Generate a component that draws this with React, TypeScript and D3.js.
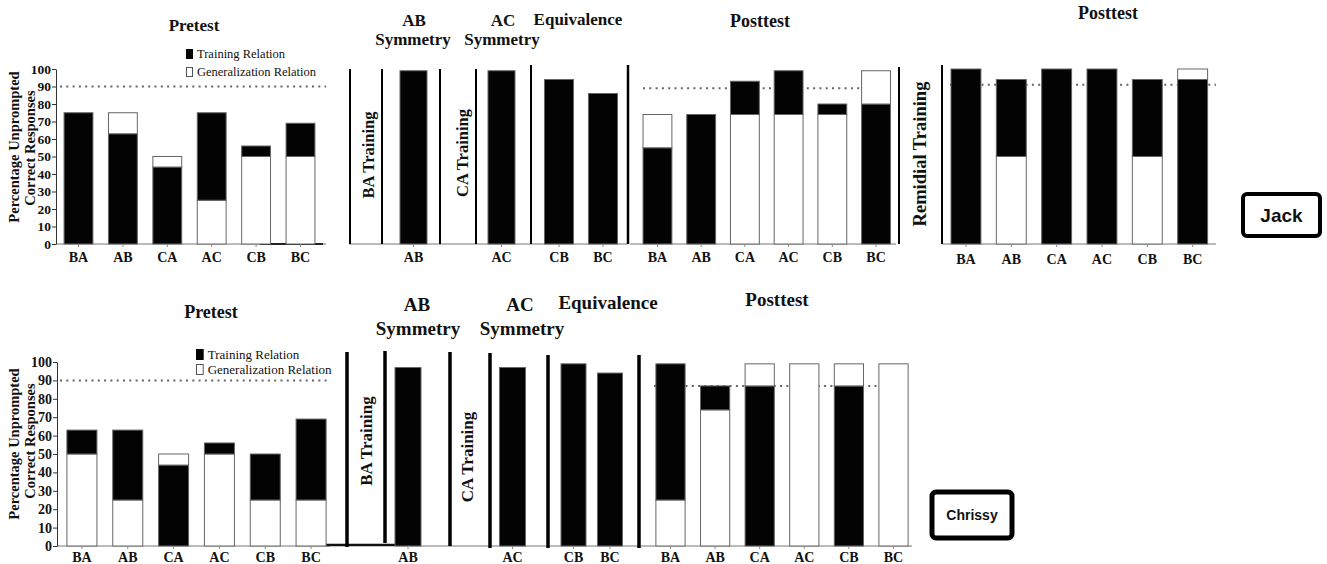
import { useEffect, useRef } from "react";
import * as d3 from "d3";

const relations = ["BA", "AB", "CA", "AC", "CB", "BC"];
const yTicks = [0, 10, 20, 30, 40, 50, 60, 70, 80, 90, 100];
const legendLabels = ["Training Relation", "Generalization Relation"];

// Jack
const jackPretestBase = [75, 63, 44, 25, 50, 50];
const jackPretestTotal = [75, 75, 50, 75, 56, 69];
const jackPretestBaseTraining = [true, true, true, false, false, false];
const jackAbSymmetry = [99];
const jackAcSymmetry = [99];
const equivalenceCats = ["CB", "BC"];
const jackEquivalence = [94, 86];
const jackPosttestBase = [55, 74, 74, 74, 74, 80];
const jackPosttestTotal = [74, 74, 93, 99, 80, 99];
const jackPosttestBaseTraining = [true, true, false, false, false, true];
const jackRemedialBase = [100, 50, 100, 100, 50, 94];
const jackRemedialTotal = [100, 94, 100, 100, 94, 100];
const jackRemedialBaseTraining = [true, false, true, true, false, true];

// Chrissy
const chrissyPretestBase = [50, 25, 44, 50, 25, 25];
const chrissyPretestTotal = [63, 63, 50, 56, 50, 69];
const chrissyPretestBaseTraining = [false, false, true, false, false, false];
const chrissyAbSymmetry = [97];
const chrissyAcSymmetry = [97];
const chrissyEquivalence = [99, 94];
const chrissyPosttestBase = [25, 74, 87, 99, 87, 99];
const chrissyPosttestTotal = [99, 87, 99, 99, 99, 99];
const chrissyPosttestBaseTraining = [false, false, true, false, true, false];

const criterion = 90;
const chrissyPosttestCriterion = 87;

const SERIF = "'Liberation Serif', 'Times New Roman', serif";
const SANS = "'Liberation Sans', Arial, sans-serif";

const App = () => {
    const ref = useRef<SVGSVGElement>(null);

    useEffect(() => {
        const svg = d3.select(ref.current);
        svg.selectAll("*").remove();

        const jackY = d3.scaleLinear().domain([0, 100]).range([244, 69]);
        const chrissyY = d3.scaleLinear().domain([0, 100]).range([546, 362]);

        const drawPanel = (y, cats, base, total, baseTraining, range, pad, labelPad = 5) => {
            const x = d3.scaleBand().domain(cats).range(range).paddingInner(pad).paddingOuter(pad / 2);
            const g = svg.append("g");
            cats.forEach((c, i) => {
                const b = base[i], t = total[i];
                g.append("rect")
                    .attr("x", x(c)).attr("width", x.bandwidth())
                    .attr("y", y(b)).attr("height", y(0) - y(b))
                    .attr("fill", baseTraining[i] ? "#030303" : "#fff")
                    .attr("stroke", "#666").attr("stroke-width", 1);
                if (t > b) {
                    g.append("rect")
                        .attr("x", x(c)).attr("width", x.bandwidth())
                        .attr("y", y(t)).attr("height", y(b) - y(t))
                        .attr("fill", baseTraining[i] ? "#fff" : "#030303")
                        .attr("stroke", "#666").attr("stroke-width", 1);
                }
            });
            const ax = g.append("g")
                .attr("transform", "translate(0," + y(0) + ")")
                .call(d3.axisBottom(x).tickSize(3).tickSizeOuter(0).tickPadding(labelPad));
            ax.select(".domain").remove();
            ax.selectAll("line").attr("stroke", "#888");
            ax.selectAll("text")
                .attr("font-family", SERIF).attr("font-weight", "bold")
                .attr("font-size", 14).attr("fill", "#111");
        };

        const drawYAxis = (y, xPos, size) => {
            const ax = svg.append("g")
                .attr("transform", "translate(" + xPos + ",0)")
                .call(d3.axisLeft(y).tickValues(yTicks).tickSize(4).tickSizeOuter(0).tickPadding(1));
            ax.select(".domain").attr("stroke", "#333");
            ax.selectAll("line").attr("stroke", "#333");
            ax.selectAll("text")
                .attr("font-family", SERIF).attr("font-weight", "bold")
                .attr("font-size", size).attr("fill", "#111");
        };

        const hline = (x1, x2, yPos, w = 1, color = "#777") => {
            svg.append("line").attr("x1", x1).attr("x2", x2).attr("y1", yPos).attr("y2", yPos)
                .attr("stroke", color).attr("stroke-width", w);
        };
        const vline = (xPos, y1, y2, w) => {
            svg.append("line").attr("x1", xPos).attr("x2", xPos).attr("y1", y1).attr("y2", y2)
                .attr("stroke", "#000").attr("stroke-width", w);
        };
        const dotted = (y, value, x1, x2) => {
            svg.append("line").attr("x1", x1).attr("x2", x2).attr("y1", y(value)).attr("y2", y(value))
                .attr("stroke", "#666").attr("stroke-width", 2).attr("stroke-dasharray", "2 4.3");
        };
        const text = (s, xPos, yPos, size, opts: any = {}) => {
            const t = svg.append("text")
                .attr("font-family", opts.family || SERIF)
                .attr("font-weight", opts.weight || "bold")
                .attr("font-size", size)
                .attr("text-anchor", opts.anchor || "middle")
                .attr("fill", "#111")
                .text(s);
            if (opts.rotate) {
                t.attr("transform", "translate(" + xPos + "," + yPos + ") rotate(-90)").attr("dy", "0.35em");
            } else {
                t.attr("x", xPos).attr("y", yPos);
            }
        };
        const legend = (xPos, y1, y2, sq, size) => {
            svg.append("rect").attr("x", xPos).attr("y", y1 - sq).attr("width", sq * 0.7).attr("height", sq)
                .attr("fill", "#030303");
            svg.append("rect").attr("x", xPos + 0.5).attr("y", y2 - sq + 0.5).attr("width", sq * 0.7 - 1).attr("height", sq - 1)
                .attr("fill", "#fff").attr("stroke", "#555");
            text(legendLabels[0], xPos + sq * 0.7 + 4, y1 - 1, size, { weight: "normal", anchor: "start" });
            text(legendLabels[1], xPos + sq * 0.7 + 4, y2 - 1, size, { weight: "normal", anchor: "start" });
        };
        const nameBox = (name, x1, y1, w, h, sw, size) => {
            svg.append("rect").attr("x", x1).attr("y", y1).attr("width", w).attr("height", h)
                .attr("rx", 4).attr("fill", "#fff").attr("stroke", "#000").attr("stroke-width", sw);
            text(name, x1 + w / 2, y1 + h / 2 + size * 0.36, size, { family: SANS });
        };

        // ---------- Jack ----------
        hline(56, 326, 244);
        hline(349, 628, 244);
        hline(630, 896, 244);
        hline(942, 1216, 244);
        hline(260, 323, 244, 2, "#222");
        dotted(jackY, criterion, 60, 326);
        dotted(jackY, criterion - 1, 643, 892);
        dotted(jackY, criterion + 1, 950, 1216);

        drawPanel(jackY, relations, jackPretestBase, jackPretestTotal, jackPretestBaseTraining, [56.3, 322.7], 0.35);
        drawPanel(jackY, ["AB"], jackAbSymmetry, jackAbSymmetry, [true], [392.5, 434.5], 0.357);
        drawPanel(jackY, ["AC"], jackAcSymmetry, jackAcSymmetry, [true], [480.5, 522.5], 0.357);
        drawPanel(jackY, equivalenceCats, jackEquivalence, jackEquivalence, [true, true], [537, 625], 0.34);
        drawPanel(jackY, relations, jackPosttestBase, jackPosttestTotal, jackPosttestBaseTraining, [635.6, 897.9], 0.34);
        drawPanel(jackY, relations, jackRemedialBase, jackRemedialTotal, jackRemedialBaseTraining, [943.3, 1215.3], 0.34, 7);
        drawYAxis(jackY, 56, 13.5);

        vline(350, 69, 244, 2);
        vline(382, 69, 244, 2);
        vline(440, 69, 244, 2);
        vline(476, 69, 244, 2);
        vline(531, 65, 244, 2);
        vline(628, 65, 244, 2.5);
        vline(899, 67, 244, 2);
        vline(942, 65, 244, 2);

        text("Pretest", 194, 31, 17);
        text("AB", 414, 26, 17);
        text("Symmetry", 413, 45, 17);
        text("AC", 503, 26, 17);
        text("Symmetry", 502, 45, 17);
        text("Equivalence", 578, 25, 17);
        text("Posttest", 760, 27, 18);
        text("Posttest", 1108, 19, 18);
        text("BA Training", 368, 155, 16.5, { rotate: true });
        text("CA Training", 462, 153, 16.5, { rotate: true });
        text("Remidial Training", 920, 154, 18.5, { rotate: true });
        text("Percentage Unprompted", 14, 147, 14.5, { rotate: true });
        text("Correct Responses", 30, 148, 14.5, { rotate: true });
        legend(186, 59, 77, 10, 12.5);
        nameBox("Jack", 1243, 194, 77, 42, 4, 19);

        // ---------- Chrissy ----------
        hline(57, 330, 546);
        hline(410, 640, 546);
        hline(640, 912, 546);
        hline(325, 408, 545, 2.5, "#111");
        dotted(chrissyY, criterion, 60, 330);
        dotted(chrissyY, chrissyPosttestCriterion, 654, 912);

        drawPanel(chrissyY, relations, chrissyPretestBase, chrissyPretestTotal, chrissyPretestBaseTraining, [59, 334], 0.345, 3);
        drawPanel(chrissyY, ["AB"], chrissyAbSymmetry, chrissyAbSymmetry, [true], [388, 428], 0.35, 3);
        drawPanel(chrissyY, ["AC"], chrissyAcSymmetry, chrissyAcSymmetry, [true], [492.5, 532.5], 0.35, 3);
        drawPanel(chrissyY, equivalenceCats, chrissyEquivalence, chrissyEquivalence, [true, true], [555.25, 628.25], 0.315, 3);
        drawPanel(chrissyY, relations, chrissyPosttestBase, chrissyPosttestTotal, chrissyPosttestBaseTraining, [648.2, 915.8], 0.345, 3);
        drawYAxis(chrissyY, 57, 14);

        vline(347, 352, 547, 3.5);
        vline(385, 351, 543, 3.5);
        vline(450, 352, 546, 3.5);
        vline(490, 353, 548, 3.5);
        vline(548, 355, 548, 3.5);
        vline(639, 355, 548, 3.5);

        text("Pretest", 211, 318, 18);
        text("AB", 417, 311, 19);
        text("Symmetry", 418, 335, 19);
        text("AC", 520, 311, 19);
        text("Symmetry", 522, 335, 19);
        text("Equivalence", 608, 309, 19);
        text("Posttest", 777, 306, 19);
        text("BA Training", 366, 441, 17, { rotate: true });
        text("CA Training", 467, 457, 17, { rotate: true });
        text("Percentage Unprompted", 14, 444, 14.5, { rotate: true });
        text("Correct Responses", 30, 441, 14.5, { rotate: true });
        legend(196, 360, 375, 11, 13);
        nameBox("Chrissy", 932, 492, 80, 46, 5, 14);
    }, []);

    return (
        <svg ref={ref} width={1327} height={564}
             style={{ position: "absolute", left: 0, top: 0, background: "#fff" }} />
    );
};

export default App;
